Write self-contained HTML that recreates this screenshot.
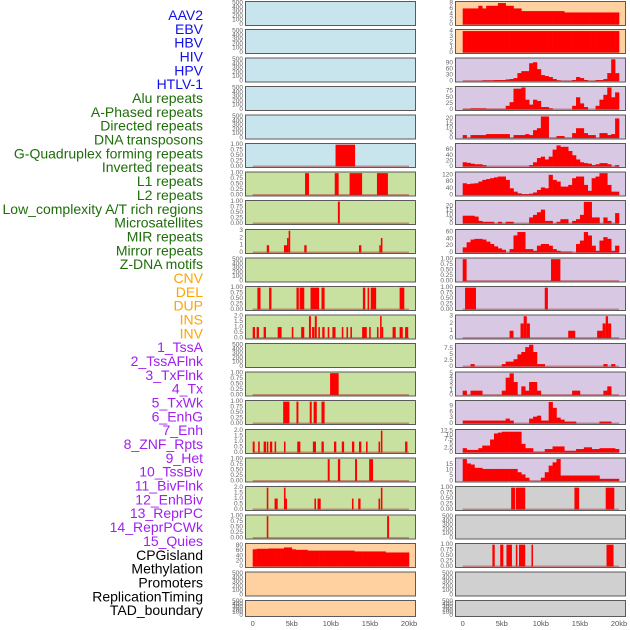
<!DOCTYPE html>
<html><head><meta charset="utf-8"><style>
html,body{margin:0;padding:0;background:#fff;width:630px;height:630px;overflow:hidden}
svg{display:block;font-family:"Liberation Sans",sans-serif}
</style></head><body>
<svg id="chart" width="630" height="630" viewBox="0 0 630 630" xmlns="http://www.w3.org/2000/svg"></svg>
<script>
const labels = ["AAV2","EBV","HBV","HIV","HPV","HTLV-1","Alu repeats","A-Phased repeats","Directed repeats","DNA transposons","G-Quadruplex forming repeats","Inverted repeats","L1 repeats","L2 repeats","Low_complexity A/T rich regions","Microsatellites","MIR repeats","Mirror repeats","Z-DNA motifs","CNV","DEL","DUP","INS","INV","1_TssA","2_TssAFlnk","3_TxFlnk","4_Tx","5_TxWk","6_EnhG","7_Enh","8_ZNF_Rpts","9_Het","10_TssBiv","11_BivFlnk","12_EnhBiv","13_ReprPC","14_ReprPCWk","15_Quies","CPGisland","Methylation","Promoters","ReplicationTiming","TAD_boundary"];
const labelGroups = [6,13,5,15,5];
const groupColors = ["#1010e8","#1e6e0a","#ffa500","#a020f0","#000000"];
const xTickLabels = ["0","5kb","10kb","15kb","20kb"];
const xTickValues = [0,5,10,15,20];
const ticksEmpty = [0,100,200,300,400,500];
const ticks01 = [0,0.25,0.5,0.75,1];
// area series: 40 bins of 0.5kb
const rAAV2 = [6,6,6,6,7,6,7,7,7,8,8,7,7,6,6,5,5,5,5,5,5,5,5,5,5,5,4.5,4.5,4.5,4.5,4.5,4.5,4.5,4.5,4.5,4.5,4.5,4.5,4.5,4.5];
const rEBV = [4,4,4,4,4,4,4,4,4,4,4,4,4,4,4,4,4,4,4,4,4,4,4,4,4,4,4,4,4,4,4,4,4,4,4,4,4,4,4,4];
const rHPV = [0,0,0,0,0,3,3,3,5,5,5,8,10,15,40,50,50,90,95,60,30,25,20,10,3,0,0,0,5,20,15,5,0,0,5,5,10,40,110,40];
const rAphased = [3,3,5,5,5,5,3,3,3,3,3,15,30,85,85,90,40,20,40,35,10,10,5,0,0,0,0,0,15,50,25,10,0,0,15,40,60,90,50,70];
const rDNAtrans = [3,0,3,3,3,3,4,4,4,4,4,4,0,3,3,3,4,3,8,10,22,22,0,0,2,2,0,0,5,10,10,5,3,3,0,5,5,3,4,20];
const rInverted = [15,13,10,8,8,5,0,0,0,0,0,0,0,0,0,0,0,5,15,30,35,25,35,60,75,70,70,55,40,25,15,12,10,5,8,12,12,8,0,5];
const rL2 = [70,65,68,70,80,90,95,100,105,110,110,90,40,20,10,5,5,8,15,30,45,40,120,90,80,50,50,60,100,110,110,60,25,100,110,130,130,60,20,20];
const rMicro = [9,9,9,8,3,2,2,2,0,2,0,2,2,0,0,0,0,7,10,13,16,3,3,0,2,5,5,0,3,5,10,25,25,7,7,0,7,3,0,12];
const rMirror = [15,30,38,40,40,38,32,25,18,12,8,0,10,50,60,60,10,10,5,20,25,25,20,10,5,3,3,3,0,25,35,60,50,20,5,35,45,40,5,20];
const rCpG = [65,67,67,67,68,68,68,68,72,72,65,63,63,63,60,60,60,60,60,60,60,60,60,60,60,60,57,57,57,57,57,57,57,57,53,53,53,53,53,53];
const rTssA = [0,0,1,0,0,0,0,0,0,0,1,2,2,3,5,6,8,9,6,1,1,0,0,0,0,0,0,0,0,0,0,0,0,0,0,0,1,0,1,0];
const rEnhG = [1.5,1.5,1.5,1.5,1.5,1.5,1.5,1.5,1.5,1.5,1.5,2.5,1.5,0,0,0,0,2.5,3.5,4,1.5,1.5,11,8,3,2,1,1,1,0,0,0,0,0,0,1,1,1,0,0];
const rEnh = [2.5,1.5,1.5,1.5,2.5,4,4,7.5,11,11.5,12,12,12,12,12,5,2.5,2.5,0.5,0.5,0.5,2,2,3.5,3.5,3.5,1,1,1,2,2,3,3,2,2,2.5,2.5,2.5,2.5,2];
const rTx = [1,0,1,1,1,0,0,0,0,0,1,4,5,3,0,2,1,3,3,1,0,0,0,0,0,0,0,0,1,1,0,0,0,0,0,0,1,2,0,0];
const rTssBiv = [20,16,15,12,12,11,11,11,11,11,11,11,11,11,8,6,3,0,0,0,3,8,14,17,20,5,5,5,5,5,5,5,5,5,5,2,2,2,2,2];
// segment series [startKb, endKb, value]
const lGquad = [[10.6,13.1,1]];
const lInverted = [[6.7,7.2,1],[10.5,11,1],[12.4,14,1],[15.9,17.3,1]];
const lLowComp = [[10.9,11.15,1]];
const lMIR = [[1.8,2.1,1],[4.0,4.5,1],[4.4,4.6,2],[4.6,4.8,3],[6.6,6.9,1],[13.6,13.9,1],[16.2,16.4,1],[16.4,16.6,2]];
const lDEL = [[0.6,1,1],[2.1,2.4,1],[5.6,5.9,1],[6,6.6,1],[7.4,8.5,1],[8.8,9.2,1],[14.1,14.4,1],[14.7,14.9,1],[15.1,15.8,1],[18.8,19.4,1]];
const lINS = [[0,0.3,1],[0.5,0.8,1],[1.4,1.7,1],[3.2,3.7,1],[5.0,5.2,1],[6.2,6.6,1],[7.2,7.45,2],[7.6,7.9,1],[7.95,8.2,2],[8.4,8.6,1],[8.9,9.2,1],[9.6,9.8,1],[10.2,10.6,1],[11.4,11.6,1],[12.0,12.2,1],[12.5,12.7,1],[14.0,14.6,1],[14.9,15.1,1],[15.9,16.1,1],[16.3,16.5,2],[16.5,16.7,1],[17.9,18.3,1],[18.8,19.2,1],[19.5,19.9,1]];
const lTxFlnk = [[9.9,11,1]];
const lTxWk = [[3.9,4.7,1],[5.6,5.85,1],[7.3,7.55,1],[7.8,8.2,1],[8.8,9.2,1]];
const lZNF = [[0,0.25,1],[0.7,0.9,1],[1.4,1.7,1],[1.8,2.0,1],[2.2,2.5,1],[2.8,3.0,1],[4.0,4.2,1],[5.7,6.1,1],[7.7,8.1,1],[8.8,9.1,1],[10.4,10.7,1],[11.4,11.7,1],[12.7,13.0,1],[13.6,13.9,1],[14.5,14.7,1],[16.1,16.3,1],[16.4,16.6,2],[19.5,19.8,1]];
const lBivFlnk = [[9.6,9.85,1],[10.9,11.2,1],[13.1,13.35,1],[14.9,15.4,1]];
const lEnhBiv = [[1.8,2.0,2],[2.8,3.2,1],[4.0,4.2,2],[4.2,4.35,1],[7.9,8.1,1],[8.3,8.7,1],[12.7,12.9,1],[13.5,13.8,1],[16.1,16.3,1],[16.4,16.6,2]];
const lReprPC = [[1.8,2.0,1],[17.2,17.45,1]];
const rDEL = [[0,0.5,1],[11.3,12.5,1]];
const rDUP = [[0.3,1.7,1],[10.5,10.9,1]];
const rINS = [[6.0,6.5,1],[7.4,7.8,2],[7.8,8.2,3],[8.2,8.6,2],[13.5,14.4,1],[17.2,17.9,1],[17.9,18.3,2],[18.3,18.6,3],[18.6,19.0,2]];
const rReprPCWk = [[6.2,6.7,1],[6.8,8.0,1],[14.3,14.9,1],[18.3,19.4,1]];
const rMeth = [[3.8,4.1,1],[4.8,5.2,1],[5.6,6.3,1],[6.8,7.0,1],[7.2,8.0,1],[8.8,9.0,1],[18.4,19.3,1]];

const BLUE="#c8e4ec", ORG="#ffd0a0", GRN="#c8e0a0", LAV="#d8c8e4", GRY="#d0d0d0";
const rowTops=[1,29,57.5,86,114.5,143,171.5,200,229,257.5,286,314.5,343,371.5,400,429,457.5,486,514.5,543,571.5,600];
function E(n){return {type:'empty',max:525,ticks:ticksEmpty};}
const rows=[
 [{bg:BLUE,...E(),name:'aav2'},{bg:ORG,type:'area',data:rAAV2,max:8.4,ticks:[0,2,4,6,8],name:'ebv'}],
 [{bg:BLUE,...E(),name:'hbv'},{bg:ORG,type:'area',data:rEBV,max:4.2,ticks:[0,1,2,3,4],name:'hiv'}],
 [{bg:BLUE,...E(),name:'hpv'},{bg:LAV,type:'area',data:rHPV,max:114,ticks:[0,30,60,90],name:'htlv1'}],
 [{bg:BLUE,...E(),name:'alu'},{bg:LAV,type:'area',data:rAphased,max:92,ticks:[0,25,50,75],name:'a-phased'}],
 [{bg:BLUE,...E(),name:'directed'},{bg:LAV,type:'area',data:rDNAtrans,max:23,ticks:[0,5,10,15,20],name:'dna-transposons'}],
 [{bg:BLUE,type:'seg',data:lGquad,max:1.03,ticks:ticks01,name:'g-quadruplex'},{bg:LAV,type:'area',data:rInverted,max:80,ticks:[0,20,40,60],name:'inverted'}],
 [{bg:GRN,type:'seg',data:lInverted,max:1.03,ticks:ticks01,name:'l1'},{bg:LAV,type:'area',data:rL2,max:134,ticks:[0,40,80,120],name:'l2'}],
 [{bg:GRN,type:'seg',data:lLowComp,max:1.03,ticks:ticks01,name:'low-complexity'},{bg:LAV,type:'area',data:rMicro,max:26,ticks:[0,5,10,15,20],name:'microsatellites'}],
 [{bg:GRN,type:'seg',data:lMIR,max:3.1,ticks:[0,1,2,3],name:'mir'},{bg:LAV,type:'area',data:rMirror,max:66,ticks:[0,20,40,60],name:'mirror'}],
 [{bg:GRN,...E(),name:'z-dna'},{bg:LAV,type:'seg',data:rDEL,max:1.03,ticks:ticks01,name:'cnv'}],
 [{bg:GRN,type:'seg',data:lDEL,max:1.03,ticks:ticks01,name:'del'},{bg:LAV,type:'seg',data:rDUP,max:1.03,ticks:ticks01,name:'dup'}],
 [{bg:GRN,type:'seg',data:lINS,max:2.06,ticks:[0,0.5,1,1.5,2],name:'ins'},{bg:LAV,type:'seg',data:rINS,max:3.1,ticks:[0,1,2,3],name:'inv'}],
 [{bg:GRN,...E(),name:'tssa'},{bg:LAV,type:'area',data:rTssA,max:9.3,ticks:[0,2.5,5,7.5],name:'tssaflnk'}],
 [{bg:GRN,type:'seg',data:lTxFlnk,max:1.03,ticks:ticks01,name:'txflnk'},{bg:LAV,type:'area',data:rTx,max:5.2,ticks:[0,1,2,3,4,5],name:'tx'}],
 [{bg:GRN,type:'seg',data:lTxWk,max:1.03,ticks:ticks01,name:'txwk'},{bg:LAV,type:'area',data:rEnhG,max:11.5,ticks:[0,3,6,9],name:'enhg'}],
 [{bg:GRN,type:'seg',data:lZNF,max:2.06,ticks:[0,0.5,1,1.5,2],name:'enh'},{bg:LAV,type:'area',data:rEnh,max:13,ticks:[0,2.5,5,7.5,10,12.5],name:'znf-rpts'}],
 [{bg:GRN,type:'seg',data:lBivFlnk,max:1.03,ticks:ticks01,name:'het'},{bg:LAV,type:'area',data:rTssBiv,max:20.5,ticks:[0,5,10,15],name:'tssbiv'}],
 [{bg:GRN,type:'seg',data:lEnhBiv,max:2.06,ticks:[0,0.5,1,1.5,2],name:'bivflnk'},{bg:GRY,type:'seg',data:rReprPCWk,max:1.03,ticks:ticks01,name:'enhbiv'}],
 [{bg:GRN,type:'seg',data:lReprPC,max:1.03,ticks:ticks01,name:'reprpc'},{bg:GRY,...E(),name:'reprpcwk'}],
 [{bg:ORG,type:'area',data:rCpG,max:85,ticks:[0,20,40,60,80],name:'quies'},{bg:GRY,type:'seg',data:rMeth,max:1.03,ticks:ticks01,name:'cpgisland'}],
 [{bg:ORG,...E(),name:'methylation'},{bg:GRY,...E(),name:'promoters'}],
 [{bg:ORG,...E(),name:'replication-timing'},{bg:GRY,...E(),name:'tad-boundary'}]
];
const NS="http://www.w3.org/2000/svg";
const svg=document.getElementById('chart');
function mk(tag,attrs,parent){const e=document.createElementNS(NS,tag);for(const k in attrs)e.setAttribute(k,attrs[k]);(parent||svg).appendChild(e);return e;}
let gi=0,cnt=0;
labels.forEach((t,i)=>{
  while(cnt>=labelGroups[gi]){cnt=0;gi++;}
  cnt++;
  const el=mk('text',{x:203,y:15+i*13.84,'text-anchor':'end','dominant-baseline':'central','font-size':'14',fill:groupColors[gi]});
  el.textContent=t;
  
  
});
const cols=[{x0:245,x1:416,z:252.7},{x0:455,x1:626,z:462.7}];
const kbPx=(409-252.7)/20;
rows.forEach((row,ri)=>{
  const Y=rowTops[ri], H=(ri===rows.length-1)?17:25;
  row.forEach((p,ci)=>{
    const c=cols[ci];
    const xs=kb=>c.z+kb*kbPx;
    const y0=Y+H-1.5, yTop=Y+1;
    const ys=v=>y0-(v/p.max)*(y0-yTop);
    const g=mk('g',{});
    
    
    const bg=mk('rect',{x:c.x0,y:Y,width:c.x1-c.x0,height:H,fill:p.bg},g);
    
    
    if(p.type==='area'){
      p.data.forEach((v,i)=>{
        if(v<=0)return;
        const r=mk('rect',{x:xs(i*0.5),y:ys(v),width:0.5*kbPx+0.3,height:y0-ys(v),fill:'#ff0000'},g);
        
        
      });
    } else if(p.type==='seg'){
      p.data.forEach(s=>{
        const r=mk('rect',{x:xs(s[0]),y:ys(s[2]),width:Math.max(1.5,(s[1]-s[0])*kbPx),height:y0-ys(s[2]),fill:'#ff0000'},g);
        
        
      });
    }
    if(p.type!=='empty'){
      const bl=mk('rect',{x:xs(0),y:y0-1,width:20*kbPx,height:1.5,fill:'rgba(170,40,40,0.45)'},g);
      
      
    }
    const fr=mk('rect',{x:c.x0+0.5,y:Y+0.5,width:c.x1-c.x0-1,height:H-1,fill:'none',stroke:'#5a5a5a','stroke-width':1},g);
    
    
    p.ticks.forEach(t=>{
      const tx=mk('text',{x:c.x0-2,y:ys(t),'text-anchor':'end','dominant-baseline':'central','font-size':'6.5',fill:'#666'},g);
      let s=String(t);
      if(p.max<1.1) s=t.toFixed(2);
      else if(p.max>2&&p.max<2.1) s=t.toFixed(1);
      tx.textContent=s;
      
      
    });
  });
});
cols.forEach((c,ci)=>{
  xTickValues.forEach((v,i)=>{
    const t=mk('text',{x:c.z+v*kbPx,y:626,'text-anchor':'middle','font-size':'7.5',fill:'#555'});
    t.textContent=xTickLabels[i];
    
    
  });
});
</script>
</body></html>
